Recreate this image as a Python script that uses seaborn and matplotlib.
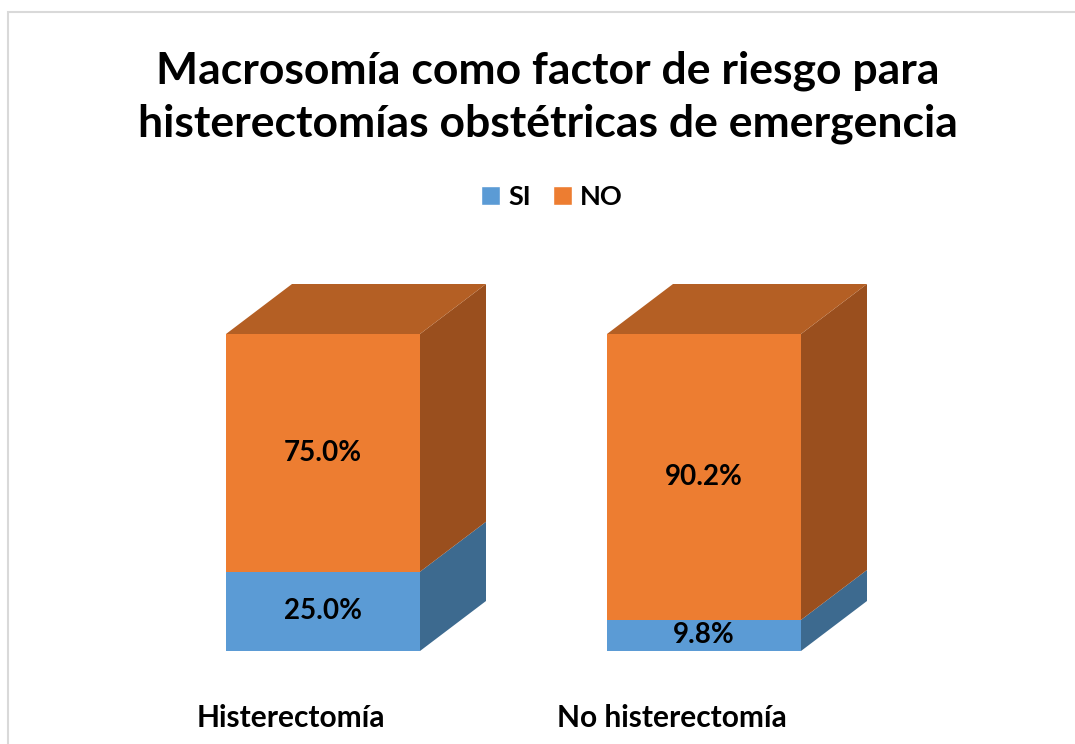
import matplotlib
matplotlib.use("Agg")
import matplotlib.pyplot as plt
import seaborn as sns
from matplotlib.patches import Polygon, Patch, Rectangle
from matplotlib.transforms import ScaledTranslation

categories = ["Histerectomía", "No histerectomía"]
si_pct = [25.0, 9.8]
no_pct = [75.0, 90.2]
series_names = ["SI", "NO"]

blue_front, blue_side = "#5B9BD5", "#3D6A8F"
orange_front, orange_top, orange_side = "#ED7D31", "#B45F24", "#9A4F1E"

sns.set_theme(style="white")
plt.rcParams['font.family'] = ['Lato', 'DejaVu Sans']
plt.rcParams['text.color'] = 'black'

W, H = 1075, 744
fig = plt.figure(figsize=(W / 100, H / 100), dpi=100)

# axes box in pixels, bar scale: 381 px per category, 3.17 px per percent
px_x, px_y = 381.0, 3.17
ax_l, ax_r, ax_t, ax_b = 150, 950, 250, 651
ax = fig.add_axes([ax_l / W, 1 - ax_b / H, (ax_r - ax_l) / W, (ax_b - ax_t) / H])

bar_w = 194 / px_x
dx, dy = 66 / px_x, 50 / px_y

totals = [s + n for s, n in zip(si_pct, no_pct)]
sns.barplot(x=categories, y=totals, color=orange_front, width=bar_w, saturation=1, linewidth=0, ax=ax, zorder=2)
sns.barplot(x=categories, y=si_pct, color=blue_front, width=bar_w, saturation=1, linewidth=0, ax=ax, zorder=2)

# 3D side and top faces
for i, (s, t) in enumerate(zip(si_pct, totals)):
    xl, xr = i - bar_w / 2, i + bar_w / 2
    for y0, y1, c in [(0, s, blue_side), (s, t, orange_side)]:
        ax.add_patch(Polygon([(xr, y0), (xr + dx, y0 + dy), (xr + dx, y1 + dy), (xr, y1)],
                             closed=True, facecolor=c, edgecolor="none", zorder=1))
    ax.add_patch(Polygon([(xl, t), (xl + dx, t + dy), (xr + dx, t + dy), (xr, t)],
                         closed=True, facecolor=orange_top, edgecolor="none", zorder=1))
    ax.text(i, s / 2, f"{s:.1f}%", ha="center", va="center", fontsize=20, fontweight="bold",
            color="black", zorder=3)
    ax.text(i, s + (t - s) / 2, f"{t - s:.1f}%", ha="center", va="center", fontsize=20,
            fontweight="bold", color="black", zorder=3)

ax.set_xlim(-(323 - ax_l) / px_x, (ax_r - 323) / px_x)
ax.set_ylim(0, (ax_b - ax_t) / px_y)
ax.set_yticks([])
ax.set_xlabel("")
ax.set_ylabel("")
sns.despine(ax=ax, left=True, bottom=True)
ax.tick_params(axis="x", length=0, pad=38)
for lab in ax.get_xticklabels():
    lab.set_fontsize(21.5)
    lab.set_fontweight("bold")
    lab.set_color("black")
    lab.set_transform(lab.get_transform() + ScaledTranslation(-0.32, 0, fig.dpi_scale_trans))

fig.suptitle("Macrosomía como factor de riesgo para\nhisterectomías obstétricas de emergencia",
             x=548 / W, y=1 - 97 / H, va="center", fontsize=32, fontweight="bold",
             color="black", linespacing=1.38)

handles = [Patch(facecolor=blue_front), Patch(facecolor=orange_front)]
leg = fig.legend(handles, series_names, loc="center", bbox_to_anchor=(552 / W, 1 - 197 / H), ncol=2,
                 frameon=False, prop={"size": 19.5, "weight": "bold"}, handlelength=0.7,
                 handleheight=0.7, handletextpad=0.3, columnspacing=0.8)
for t in leg.get_texts():
    t.set_color("black")

fig.patches.append(Rectangle((8 / W, -0.1), 1.2, (H - 12) / H + 0.1, transform=fig.transFigure,
                             fill=False, edgecolor="#D9D9D9", linewidth=1.5))

fig.savefig("out.png", dpi=100, facecolor="white")
